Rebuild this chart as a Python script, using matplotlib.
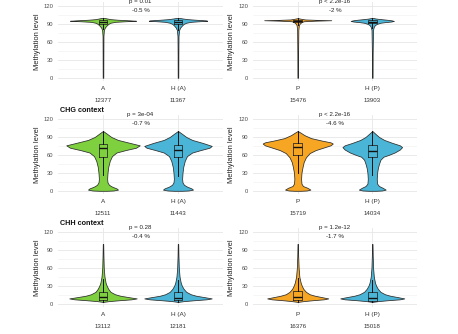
import numpy as np
import matplotlib
matplotlib.use("Agg")
import matplotlib.pyplot as plt

plt.rcParams['font.family'] = ['Liberation Sans', 'DejaVu Sans']

GREEN = '#7ED03F'
BLUE = '#4BB5D7'
ORANGE = '#F6A623'

# ---------------- data ----------------
contexts = ['CG context', 'CHG context', 'CHH context']
groups_left = ['A', 'H (A)']
groups_right = ['P', 'H (P)']

counts_left = [[12377, 11367], [12511, 11443], [13112, 12181]]
counts_right = [[15476, 13903], [15719, 14034], [16376, 15018]]

pvals_left = ['p = 0.01', 'p = 3e-04', 'p = 0.28']
pvals_right = ['p < 2.2e-16', 'p < 2.2e-16', 'p = 1.2e-12']
diff_left = ['-0.5 %', '-0.7 %', '-0.4 %']
diff_right = ['-2 %', '-4.6 %', '-1.7 %']

# violin outlines: methylation level -> half width
cg_lv_A = [0, 40, 70, 80, 84, 87, 90, 92, 93.5, 94.5, 95.3, 96, 97, 98, 99, 100]
cg_hw_A = [0.004, 0.005, 0.006, 0.012, 0.025, 0.045, 0.07, 0.10, 0.16, 0.30, 0.44, 0.36, 0.20, 0.10, 0.06, 0.02]
cg_lv_HA = [0, 40, 70, 80, 84, 87, 90, 92, 93.5, 94.5, 95.3, 96, 97, 98, 99, 100]
cg_hw_HA = [0.004, 0.005, 0.007, 0.015, 0.03, 0.05, 0.075, 0.11, 0.17, 0.28, 0.39, 0.37, 0.24, 0.13, 0.07, 0.02]
cg_lv_P = [0, 40, 80, 88, 91, 93, 94.5, 95.5, 96.2, 96.8, 97.5, 98.5, 99.5]
cg_hw_P = [0.004, 0.005, 0.008, 0.015, 0.03, 0.05, 0.08, 0.25, 0.45, 0.25, 0.10, 0.05, 0.01]
cg_lv_HP = [0, 40, 80, 85, 88, 90, 92, 93, 94, 95, 96, 97, 98, 99, 100]
cg_hw_HP = [0.004, 0.005, 0.01, 0.02, 0.035, 0.06, 0.11, 0.17, 0.25, 0.29, 0.26, 0.20, 0.12, 0.05, 0.01]

chg_lv_A = [0, 0.5, 2, 4, 7, 10, 14, 20, 30, 40, 50, 58, 64, 68, 72, 76, 80, 85, 90, 96, 100]
chg_hw_A = [0.05, 0.14, 0.20, 0.18, 0.12, 0.08, 0.06, 0.055, 0.06, 0.07, 0.09, 0.12, 0.18, 0.30, 0.44, 0.49, 0.36, 0.20, 0.11, 0.045, 0.0]
chg_lv_HA = [0, 0.5, 2, 4, 7, 10, 14, 20, 30, 40, 50, 58, 64, 68, 72, 75, 80, 85, 90, 96, 100]
chg_hw_HA = [0.05, 0.14, 0.20, 0.18, 0.12, 0.08, 0.06, 0.055, 0.06, 0.07, 0.09, 0.12, 0.19, 0.30, 0.42, 0.45, 0.33, 0.19, 0.11, 0.045, 0.0]
chg_lv_P = [0, 0.5, 2, 5, 8, 12, 20, 30, 40, 48, 56, 63, 68, 72, 76, 79, 81, 84, 88, 93, 97, 100]
chg_hw_P = [0.04, 0.12, 0.17, 0.13, 0.07, 0.05, 0.045, 0.05, 0.065, 0.08, 0.11, 0.16, 0.24, 0.34, 0.44, 0.47, 0.44, 0.32, 0.18, 0.09, 0.04, 0.0]
chg_lv_HP = [0, 0.5, 2, 5, 8, 12, 20, 30, 38, 45, 52, 57, 60, 64, 69, 73, 76, 80, 85, 90, 96, 100]
chg_hw_HP = [0.05, 0.13, 0.18, 0.14, 0.09, 0.065, 0.06, 0.065, 0.075, 0.09, 0.11, 0.15, 0.22, 0.30, 0.37, 0.40, 0.37, 0.27, 0.16, 0.09, 0.035, 0.0]

chh_lv_A = [3, 3.5, 4.5, 6, 7.5, 9, 11, 13.5, 16, 20, 25, 30, 35, 45, 60, 80, 100]
chh_hw_A = [0.0, 0.02, 0.08, 0.22, 0.38, 0.45, 0.35, 0.23, 0.16, 0.10, 0.07, 0.05, 0.035, 0.02, 0.01, 0.006, 0.003]
chh_lv_HA = [3, 3.5, 4.5, 6, 7.5, 9, 11, 13.5, 16, 20, 25, 30, 35, 45, 60, 80, 100]
chh_hw_HA = [0.0, 0.02, 0.08, 0.22, 0.38, 0.45, 0.36, 0.24, 0.17, 0.11, 0.075, 0.052, 0.037, 0.021, 0.011, 0.006, 0.003]
chh_lv_P = [3, 3.5, 4.5, 6, 7.5, 9, 11, 13.5, 16, 20, 25, 30, 35, 45, 60, 80, 100]
chh_hw_P = [0.0, 0.02, 0.08, 0.2, 0.35, 0.41, 0.33, 0.23, 0.16, 0.11, 0.075, 0.055, 0.04, 0.022, 0.012, 0.006, 0.003]
chh_lv_HP = [3, 3.5, 4.5, 6, 7.5, 9, 11, 13.5, 16, 20, 25, 30, 35, 45, 60, 80, 100]
chh_hw_HP = [0.0, 0.02, 0.08, 0.21, 0.37, 0.43, 0.35, 0.24, 0.17, 0.11, 0.075, 0.052, 0.037, 0.021, 0.011, 0.006, 0.003]

# box stats: whisker low, q1, median, q3, whisker high
cg_box_A = [81, 90, 93.5, 96, 100]
cg_box_HA = [80, 89.5, 93, 96, 100]
cg_box_P = [88, 93.5, 95.5, 97, 100]
cg_box_HP = [83, 91, 94, 96.5, 100]
chg_box_A = [26, 57, 71, 77.5, 100]
chg_box_HA = [25, 56, 69, 76.5, 100]
chg_box_P = [30, 60, 73, 80, 100]
chg_box_HP = [27, 56.5, 67, 76, 100]
chh_box_A = [3, 6, 11, 20, 41]
chh_box_HA = [3, 6, 10.5, 19.5, 40]
chh_box_P = [3, 6, 11, 21, 43]
chh_box_HP = [3, 5.5, 10, 19, 39]

violins_left = [[(cg_lv_A, cg_hw_A), (cg_lv_HA, cg_hw_HA)],
                [(chg_lv_A, chg_hw_A), (chg_lv_HA, chg_hw_HA)],
                [(chh_lv_A, chh_hw_A), (chh_lv_HA, chh_hw_HA)]]
violins_right = [[(cg_lv_P, cg_hw_P), (cg_lv_HP, cg_hw_HP)],
                 [(chg_lv_P, chg_hw_P), (chg_lv_HP, chg_hw_HP)],
                 [(chh_lv_P, chh_hw_P), (chh_lv_HP, chh_hw_HP)]]
boxes_left = [[cg_box_A, cg_box_HA], [chg_box_A, chg_box_HA], [chh_box_A, chh_box_HA]]
boxes_right = [[cg_box_P, cg_box_HP], [chg_box_P, chg_box_HP], [chh_box_P, chh_box_HP]]

# ---------------- layout ----------------
W, H = 458, 334
fig = plt.figure(figsize=(W / 100, H / 100), dpi=100)
fig.patch.set_facecolor('white')

row_tops = [2.4, 115.4, 228.4]
row_h = 79.0
col_left = [(58, 165), (253, 164)]


def draw_panel(ax, names, colors, violins, boxes, counts, ptxt, dtxt):
    pos = [1, 2]
    for x, (lv, hw), col, bs in zip(pos, violins, colors, boxes):
        lv = np.asarray(lv, float)
        hw = np.asarray(hw, float)
        st = dict(coords=lv, vals=hw, mean=float(np.mean(lv)),
                  median=bs[2], min=lv.min(), max=lv.max())
        parts = ax.violin([st], positions=[x], widths=[2 * hw.max()],
                          showmeans=False, showextrema=False, showmedians=False)
        for b in parts['bodies']:
            b.set_facecolor(col)
            b.set_edgecolor('#2b2b2b')
            b.set_linewidth(0.55)
            b.set_alpha(1)
            b.set_zorder(2)
        bst = dict(whislo=bs[0], q1=bs[1], med=bs[2], q3=bs[3], whishi=bs[4], fliers=[])
        ax.bxp([bst], positions=[x], widths=0.115, showfliers=False, showcaps=False,
               boxprops=dict(color='#222222', lw=0.55),
               whiskerprops=dict(color='#111111', lw=0.7),
               medianprops=dict(color='#111111', lw=1.0),
               manage_ticks=False, zorder=3)
    ax.set_xlim(0.4, 2.6)
    ax.set_ylim(-6, 126)
    ax.set_yticks([0, 30, 60, 90, 120])
    ax.set_yticks([15, 45, 75, 105], minor=True)
    ax.set_xticks(pos)
    ax.set_xticklabels(names)
    ax.grid(which='major', color='#E6E6E6', lw=0.6, zorder=0)
    ax.grid(which='minor', axis='y', color='#EFEFEF', lw=0.4, zorder=0)
    ax.set_axisbelow(True)
    for s in ax.spines.values():
        s.set_visible(False)
    ax.tick_params(axis='both', which='both', length=0)
    ax.tick_params(axis='y', labelsize=4.2, pad=3.5, labelcolor='#4d4d4d')
    ax.tick_params(axis='x', labelsize=4.6, pad=3.2, labelcolor='#333333')
    ax.set_ylabel('Methylation level', fontsize=5.4, color='#222222')
    for x, n in zip(pos, counts):
        ax.annotate(str(n), xy=(x, 0), xycoords=('data', 'axes fraction'),
                    xytext=(0, -19.4), textcoords='offset pixels',
                    ha='center', va='center', fontsize=4.4, color='#333333')
    ax.text(1.5, 128, ptxt, ha='center', va='center', fontsize=4.4, color='#222222', clip_on=False)
    ax.text(1.5, 113, dtxt, ha='center', va='center', fontsize=4.4, color='#222222', clip_on=False)


for r in range(3):
    for c in range(2):
        x0, w = col_left[c]
        top = row_tops[r]
        ax = fig.add_axes([x0 / W, 1 - (top + row_h) / H, w / W, row_h / H])
        if c == 0:
            draw_panel(ax, groups_left, [GREEN, BLUE], violins_left[r], boxes_left[r],
                       counts_left[r], pvals_left[r], diff_left[r])
            ax.yaxis.set_label_coords(-0.103, 0.5)
            ax.annotate(contexts[r], xy=(0, 1), xycoords='axes fraction',
                        xytext=(2, 5), textcoords='offset pixels',
                        ha='left', va='center', fontsize=5.2, fontweight='bold',
                        color='#111111', annotation_clip=False)
        else:
            draw_panel(ax, groups_right, [ORANGE, BLUE], violins_right[r], boxes_right[r],
                       counts_right[r], pvals_right[r], diff_right[r])
            ax.yaxis.set_label_coords(-0.11, 0.5)

fig.savefig('out.png', dpi=100)
